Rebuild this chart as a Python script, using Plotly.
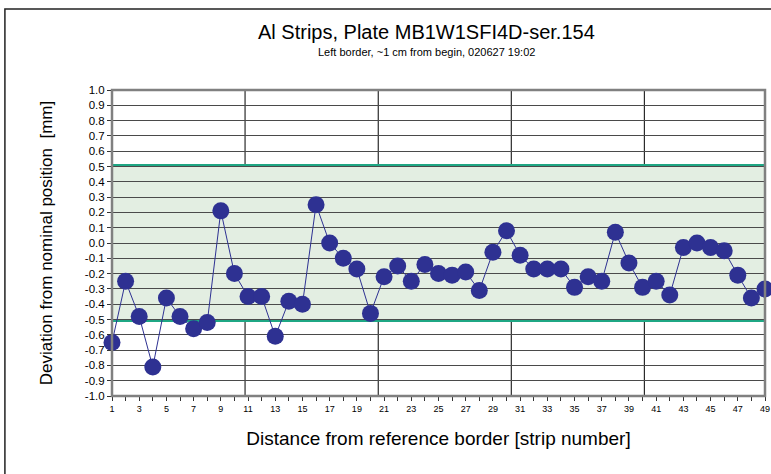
import plotly.graph_objects as go

strips = list(range(1, 50))
deviation = [-0.65, -0.25, -0.48, -0.81, -0.36, -0.48, -0.56, -0.52, 0.21, -0.20,
             -0.35, -0.35, -0.61, -0.38, -0.40, 0.25, 0.00, -0.10, -0.17, -0.46,
             -0.22, -0.15, -0.25, -0.14, -0.20, -0.21, -0.19, -0.31, -0.06, 0.08,
             -0.08, -0.17, -0.17, -0.17, -0.29, -0.22, -0.25, 0.07, -0.13, -0.29,
             -0.25, -0.34, -0.03, 0.00, -0.03, -0.05, -0.21, -0.36, -0.30]
y_ticks = [round(-1.0 + 0.1 * i, 1) for i in range(21)]
x_tick_labels = [str(s) if s % 2 == 1 else "" for s in strips]
tolerance_low, tolerance_high = -0.5, 0.5
vgrid_positions = [10.78, 20.57, 30.35, 40.13]

NAVY = "#2e3192"
TEAL = "#1fa784"
FONT = "Liberation Sans, Arial, sans-serif"

fig = go.Figure()
fig.add_trace(go.Scatter(
    x=strips, y=deviation, mode="lines+markers",
    line=dict(color=NAVY, width=1),
    marker=dict(color=NAVY, size=17),
    cliponaxis=False, showlegend=False,
))

shapes = [
    dict(type="rect", xref="x", yref="y", x0=1, x1=49, y0=tolerance_low, y1=tolerance_high,
         fillcolor="#e3eee2", line=dict(width=0), layer="below"),
]
for v in vgrid_positions:
    shapes.append(dict(type="line", xref="x", yref="paper", x0=v, x1=v, y0=0, y1=1,
                       line=dict(color="#000000", width=1), layer="between"))
for t in (tolerance_low, tolerance_high):
    shapes.append(dict(type="line", xref="paper", yref="y", x0=0, x1=1, y0=t, y1=t,
                       line=dict(color=TEAL, width=5), layer="between"))
# outer chart border
shapes.append(dict(type="rect", xref="paper", yref="paper", x0=-0.164, x1=1.2, y0=-0.5, y1=1.265,
                   line=dict(color="#222222", width=1.5), layer="above"))
# plot area border
shapes.append(dict(type="rect", xref="paper", yref="paper", x0=0, x1=1, y0=0, y1=1,
                   line=dict(color="#808080", width=2.5), layer="above"))

fig.update_layout(
    width=771, height=474,
    margin=dict(l=112, r=6, t=90, b=78),
    paper_bgcolor="white", plot_bgcolor="white",
    font=dict(family=FONT, color="#000000"),
    shapes=shapes,
    annotations=[
        dict(text="Al Strips, Plate MB1W1SFI4D-ser.154", xref="paper", yref="paper",
             x=0.482, y=1.19, xanchor="center", yanchor="middle", showarrow=False,
             font=dict(size=20, family=FONT)),
        dict(text="Left border, ~1 cm from begin, 020627 19:02", xref="paper", yref="paper",
             x=0.482, y=1.125, xanchor="center", yanchor="middle", showarrow=False,
             font=dict(size=11, family=FONT)),
    ],
    xaxis=dict(
        range=[1, 49], tickmode="array", tickvals=strips, ticktext=x_tick_labels,
        ticks="outside", ticklen=4, tickcolor="#333", tickfont=dict(size=9),
        showgrid=False, zeroline=False, showline=False, automargin=False,
        title=dict(text="Distance from reference border [strip number]",
                   font=dict(size=19), standoff=18),
    ),
    yaxis=dict(
        range=[-1.0, 1.0], tickmode="array", tickvals=y_ticks,
        ticktext=[f"{v:.1f}" for v in y_ticks],
        ticks="outside", ticklen=4, tickcolor="#333", tickfont=dict(size=11.5),
        showgrid=True, gridcolor="#4a4a4a", gridwidth=1, zeroline=False, showline=False,
        automargin=False,
        title=dict(text="Deviation from nominal position  [mm]",
                   font=dict(size=17), standoff=27),
    ),
)

fig.write_html(
    "out.html",
    config={"displayModeBar": False},
    post_script="document.body.style.margin='0';document.body.style.overflow='hidden';",
)
